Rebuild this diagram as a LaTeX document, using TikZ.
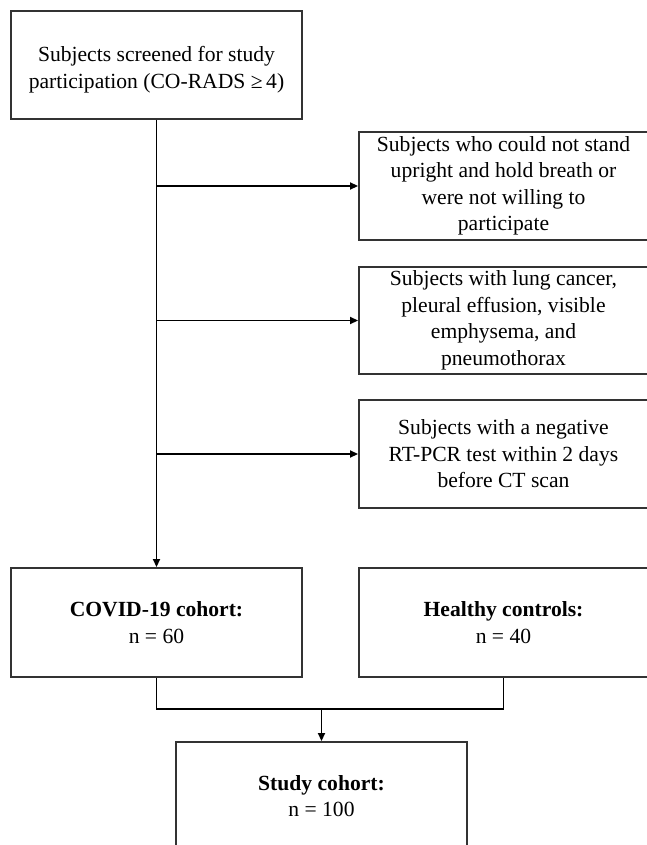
\documentclass[tikz,border=0pt]{standalone}
\usepackage{fontspec}
\setmainfont{Liberation Serif}
\usetikzlibrary{%
		arrows.meta%
	}

\tikzset{
	box/.style={draw=black!80, line width=1.9pt, align=center, inner sep=0pt, font=\fontsize{21.6}{26.5}\selectfont},
	link/.style={line width=1.7pt},
	arr/.style={link, -{Triangle[length=8pt,width=7pt]}}
}

\begin{document}
\begin{tikzpicture}[x=1pt, y=-1pt]
			\useasboundingbox (0,0) rectangle (647,845);
			\clip (0,0) rectangle (647,845);
			
			\node[box, minimum width=291, minimum height=108] (screen) at (156.5,65) {\rule{0pt}{25pt}Subjects screened for study\\participation (CO-RADS ≥\,4)};
			
			\node[box, minimum width=289, minimum height=108] (noshow) at (503.5,186) {Subjects who could not stand\\upright and hold breath or\\were not willing to\\participate};
			\node[box, minimum width=289, minimum height=107] (lung) at (503.5,320.5) {Subjects with lung cancer,\\pleural effusion, visible\\emphysema, and\\pneumothorax};
			\node[box, minimum width=289, minimum height=108] (pcr) at (503.5,454) {Subjects with a negative\\RT-PCR test within 2 days\\before CT scan};
			
			\node[box, minimum width=291, minimum height=109] (covid) at (156.5,622.5) {\textbf{COVID-19 cohort:}\\n = 60};
			\node[box, minimum width=289, minimum height=109] (healthy) at (503.5,622.5) {\textbf{Healthy controls:}\\n = 40};
			
			\node[box, minimum width=291, minimum height=108] (study) at (321.5,796) {\textbf{Study cohort:}\\n = 100};
			
			\draw[arr] (screen.south) -- (covid.north);
			\draw[arr] (screen.south |- noshow.west) -- (noshow.west);
			\draw[arr] (screen.south |- lung.west) -- (lung.west);
			\draw[arr] (screen.south |- pcr.west) -- (pcr.west);
			
			\coordinate (join) at (321.5,709);
			\draw[link] (covid.south) |- (join) -| (healthy.south);
			\draw[arr] (join) -- (study.north);
		\end{tikzpicture}
\end{document}
